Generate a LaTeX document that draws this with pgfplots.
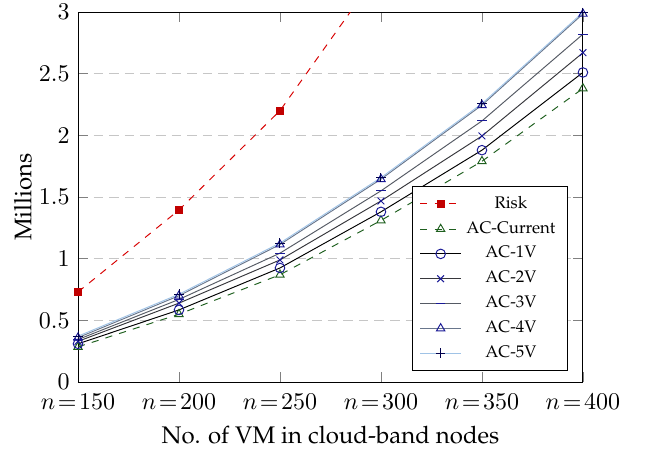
\documentclass[border=0pt]{standalone}
\usepackage{pgfplots}
\pgfplotsset{compat=1.18}
\newcommand{\pal}{\fontencoding{T1}\fontfamily{ppl}\selectfont}
\definecolor{riskred}{RGB}{215,0,0}
\definecolor{acgreen}{RGB}{30,95,30}
\definecolor{mkblue}{RGB}{25,25,150}
\definecolor{cA}{RGB}{0,0,0}
\definecolor{cB}{RGB}{55,55,60}
\definecolor{cC}{RGB}{85,90,100}
\definecolor{cD}{RGB}{105,118,140}
\definecolor{cE}{RGB}{160,195,230}
\begin{document}
\begin{tikzpicture}
\useasboundingbox (-32.5pt,-30.8pt) rectangle (236.25pt,159.2pt);
\begin{axis}[
  at={(0,0)}, anchor=south west,
  width=210.4pt, height=154.2pt, scale only axis,
  xmin=0, xmax=5, ymin=0, ymax=3,
  xtick={0,1,2,3,4,5},
  xticklabels={$n\!=\!150$,$n\!=\!200$,$n\!=\!250$,$n\!=\!300$,$n\!=\!350$,$n\!=\!400$},
  xticklabel style={yshift=-1.5pt},
  ytick={0,0.5,1,1.5,2,2.5,3},
  ymajorgrids,
  grid style={gray!45, dash pattern=on 4pt off 2.5pt},
  xlabel={\pal No. of VM in cloud-band nodes},
  ylabel={\pal Millions},
  ylabel shift=-4pt,
  legend pos=south east,
  legend cell align=center,
  legend style={font=\pal\scriptsize},
]
\addplot[riskred, dashed, mark=square*, mark size=1.5pt, mark options={solid, fill=riskred!90!black, draw=riskred!90!black}]
  coordinates {(0,0.73) (1,1.395) (2,2.2) (3,3.35) (4,4.6) (5,6.0)};
\addlegendentry{Risk}
\addplot[acgreen, dashed, mark=triangle, mark options={solid}]
  coordinates {(0,0.285) (1,0.55) (2,0.87) (3,1.31) (4,1.79) (5,2.38)};
\addlegendentry{AC-Current}
\addplot[cA, mark=o, mark options={mkblue}]
  coordinates {(0,0.31) (1,0.585) (2,0.925) (3,1.38) (4,1.88) (5,2.51)};
\addlegendentry{AC-1V}
\addplot[cB, mark=x, mark options={mkblue}]
  coordinates {(0,0.33) (1,0.64) (2,0.99) (3,1.468) (4,1.995) (5,2.67)};
\addlegendentry{AC-2V}
\addplot[cC, mark=-, mark options={mkblue}]
  coordinates {(0,0.345) (1,0.67) (2,1.045) (3,1.55) (4,2.117) (5,2.82)};
\addlegendentry{AC-3V}
\addplot[cD, mark=triangle, mark options={mkblue}]
  coordinates {(0,0.36) (1,0.70) (2,1.115) (3,1.645) (4,2.245) (5,2.985)};
\addlegendentry{AC-4V}
\addplot[cE, mark=+, mark options={blue!30!black}]
  coordinates {(0,0.372) (1,0.712) (2,1.127) (3,1.657) (4,2.257) (5,2.997)};
\addlegendentry{AC-5V}
\end{axis}
\end{tikzpicture}
\end{document}
